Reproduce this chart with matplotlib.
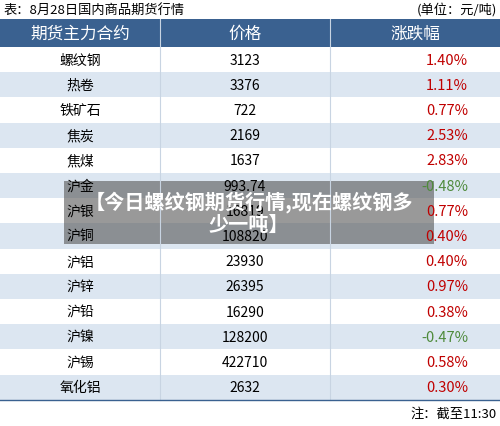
import matplotlib
matplotlib.use("Agg")
import matplotlib.pyplot as plt
from matplotlib.patches import Rectangle

plt.rcParams['font.family'] = ['Noto Sans CJK SC', 'DejaVu Sans']

names = ["螺纹钢","热卷","铁矿石","焦炭","焦煤","沪金","沪银","沪铜","沪铝","沪锌","沪铅","沪镍","沪锡","氧化铝"]
prices = ["3123","3376","722","2169","1637","993.74","16819","108820","23930","26395","16290","128200","422710","2632"]
changes = [1.40,1.11,0.77,2.53,2.83,-0.48,0.77,0.40,0.40,0.97,0.38,-0.47,0.58,0.30]
headers = ["期货主力合约","价格","涨跌幅"]

fig = plt.figure(figsize=(5,4.27), dpi=100)
ax = fig.add_axes([0,0,1,1])
ax.set_xlim(0,500); ax.set_ylim(427,0); ax.axis('off')

ax.text(3,10,"表：8月28日国内商品期货行情",fontsize=9.5,va='center',ha='left')
ax.text(497,10,"(单位：元/吨)",fontsize=9.5,va='center',ha='right')

top=20; hh=28; rh=25.2
ax.add_patch(Rectangle((0,top),500,hh,color='#3a6190',lw=0))
cx=[80,245,415]
for x,h in zip(cx,headers):
    ax.text(x,top+hh/2,h,color='white',fontsize=12,ha='center',va='center')
y0=top+hh
for i,(n,p,c) in enumerate(zip(names,prices,changes)):
    y=y0+i*rh
    if i%2==1:
        ax.add_patch(Rectangle((0,y),500,rh,color='#dce6f1',lw=0))
    ax.text(80,y+rh/2,n,fontsize=10,ha='center',va='center')
    ax.text(245,y+rh/2,p,fontsize=10,ha='center',va='center')
    ax.text(468,y+rh/2,f"{c:.2f}%",fontsize=10.5,ha='right',va='center',
            color='#c00000' if c>=0 else '#4e8a3a')
yb=y0+len(names)*rh
for x in [160,330]:
    ax.plot([x,x],[top,yb],color='#c8d4e2',lw=0.8)
ax.plot([0,500],[yb,yb],color='#3a6190',lw=1)
ax.text(497,414,"注：截至11:30",fontsize=9.5,ha='right',va='center')

ax.add_patch(Rectangle((64,182),370,63,color='#555555',alpha=0.6,lw=0))
ax.text(249,213,"【今日螺纹钢期货行情,现在螺纹钢多\n少一吨】",color='white',fontsize=14.5,
        fontweight='bold',ha='center',va='center',linespacing=1.1)
fig.savefig("out.png",dpi=100)
